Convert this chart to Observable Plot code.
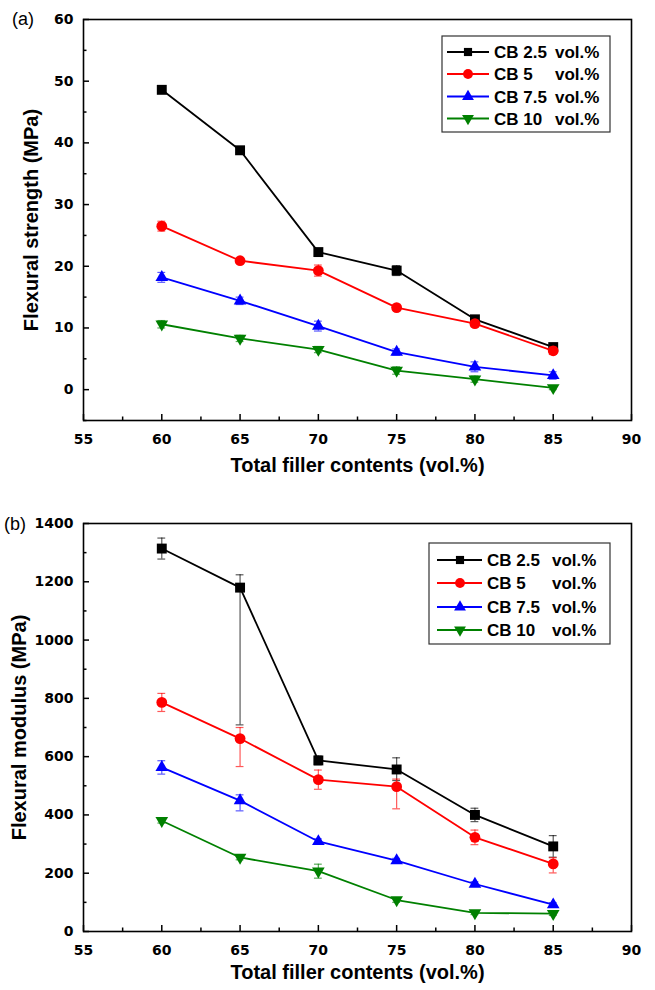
<!DOCTYPE html>
<html>
<head>
<meta charset="utf-8">
<script src="https://cdn.jsdelivr.net/npm/d3@7"></script>
<script src="https://cdn.jsdelivr.net/npm/@observablehq/plot@0.6"></script>
<style>
  html, body { margin: 0; padding: 0; background: #fff; }
  #wrap { width: 655px; }
  svg { display: block; }
  .tick-labels text { font-family: "DejaVu Sans", sans-serif; font-weight: bold; }
</style>
</head>
<body>
<div id="wrap"><div id="chartA"></div><div id="chartB"></div></div>
<script>
// ---------- data ----------
const fillerContents = [60, 65, 70, 75, 80, 85];
const seriesNames = ["CB 2.5", "CB 5", "CB 7.5", "CB 10"];
const seriesColors = ["#000000", "#ff0000", "#0000ff", "#008000"];
const seriesSymbols = ["square", "circle", "triangle", "triangle"];
const seriesRotate = [0, 0, 0, 180];

// (a) flexural strength (MPa) and +/- error
const strengthCB25 = [48.6, 38.8, 22.3, 19.3, 11.4, 6.9];
const strengthCB5  = [26.5, 20.9, 19.3, 13.3, 10.7, 6.3];
const strengthCB75 = [18.2, 14.4, 10.3, 6.1, 3.7, 2.3];
const strengthCB10 = [10.6, 8.3, 6.5, 3.1, 1.7, 0.3];
const strengthErrCB25 = [0.3, 0.4, 0.5, 0.8, 0.5, 0.4];
const strengthErrCB5  = [0.8, 0.4, 0.9, 0.4, 0.5, 0.6];
const strengthErrCB75 = [0.8, 0.6, 0.8, 0.5, 0.8, 0.6];
const strengthErrCB10 = [0.6, 0.5, 0.5, 0.6, 0.5, 0.3];

// (b) flexural modulus (MPa) with error-bar low / high ends
const modulusCB25 = [1314, 1180, 587, 556, 400, 292];
const modulusCB5  = [786, 662, 521, 497, 323, 232];
const modulusCB75 = [563, 449, 309, 243, 163, 92];
const modulusCB10 = [380, 254, 207, 108, 64, 61];
const modulusLoCB25 = [1278, 709, 572, 518, 377, 255];
const modulusHiCB25 = [1350, 1224, 602, 596, 423, 329];
const modulusLoCB5  = [755, 566, 488, 421, 298, 201];
const modulusHiCB5  = [817, 700, 554, 523, 348, 253];
const modulusLoCB75 = [540, 414, 300, 235, 155, 85];
const modulusHiCB75 = [586, 469, 318, 251, 171, 99];
const modulusLoCB10 = [372, 246, 183, 100, 58, 55];
const modulusHiCB10 = [388, 262, 231, 116, 70, 67];

// ticks
const xMajor = [55, 60, 65, 70, 75, 80, 85, 90];
const xMinor = [57.5, 62.5, 67.5, 72.5, 77.5, 82.5, 87.5];
const yMajorA = [0, 10, 20, 30, 40, 50, 60];
const yMinorA = [-5, 5, 15, 25, 35, 45, 55];
const yMajorB = [0, 200, 400, 600, 800, 1000, 1200, 1400];
const yMinorB = [100, 300, 500, 700, 900, 1100, 1300];

// ---------- build tables ----------
const strengthVals = [strengthCB25, strengthCB5, strengthCB75, strengthCB10];
const strengthErrs = [strengthErrCB25, strengthErrCB5, strengthErrCB75, strengthErrCB10];
const tableA = seriesNames.map((s, i) => fillerContents.map((x, j) => ({
  series: s, x, y: strengthVals[i][j],
  lo: strengthVals[i][j] - strengthErrs[i][j], hi: strengthVals[i][j] + strengthErrs[i][j]
})));
const modulusVals = [modulusCB25, modulusCB5, modulusCB75, modulusCB10];
const modulusLo = [modulusLoCB25, modulusLoCB5, modulusLoCB75, modulusLoCB10];
const modulusHi = [modulusHiCB25, modulusHiCB5, modulusHiCB75, modulusHiCB10];
const tableB = seriesNames.map((s, i) => fillerContents.map((x, j) => ({
  series: s, x, y: modulusVals[i][j], lo: modulusLo[i][j], hi: modulusHi[i][j]
})));

const capHalf = 0.25; // half width of error caps in x units

function seriesMarks(table) {
  const marks = [];
  table.forEach((rows, i) => {
    const c = seriesColors[i];
    const eo = {stroke: c, strokeOpacity: 0.65, strokeWidth: 1.2};
    marks.push(Plot.ruleX(rows, {x: "x", y1: "lo", y2: "hi", ...eo}));
    marks.push(Plot.ruleY(rows, {y: "lo", x1: d => d.x - capHalf, x2: d => d.x + capHalf, ...eo}));
    marks.push(Plot.ruleY(rows, {y: "hi", x1: d => d.x - capHalf, x2: d => d.x + capHalf, ...eo}));
    marks.push(Plot.line(rows, {x: "x", y: "y", stroke: c, strokeWidth: 1.8}));
    const r = seriesSymbols[i] === "square" ? 5.6 : seriesSymbols[i] === "circle" ? 5.4 : 4.7;
    marks.push(Plot.dot(rows, {x: "x", y: "y", symbol: seriesSymbols[i], rotate: seriesRotate[i], r, fill: c, stroke: "none"}));
  });
  return marks;
}

function axesMarks(yMajor, yMinor, xLabel, yLabel, xLabOff, yLabOff) {
  return [
    Plot.axisX(xMajor, {tickSize: -6, tickPadding: 20, label: null, fontSize: 14, className: "tick-labels", strokeWidth: 1.5, tickFormat: d => String(d)}),
    Plot.axisX(xMinor, {tickSize: -3.5, tickFormat: () => "", label: null, strokeWidth: 1.5}),
    Plot.axisY(yMajor, {tickSize: -6, tickPadding: 16, label: null, fontSize: 14, className: "tick-labels", strokeWidth: 1.5, tickFormat: d => String(d)}),
    Plot.axisY(yMinor, {tickSize: -3.5, tickFormat: () => "", label: null, strokeWidth: 1.5}),
    Plot.frame({stroke: "#000", strokeWidth: 1.6}),
    Plot.text([xLabel], {text: d => d, frameAnchor: "bottom", textAnchor: "middle", dy: xLabOff, fontSize: 20, fontWeight: "bold", fill: "#000"}),
    Plot.text([yLabel], {text: d => d, frameAnchor: "left", textAnchor: "middle", dx: -yLabOff, rotate: -90, fontSize: 20, fontWeight: "bold", fill: "#000"})
  ];
}

const commonStyle = {fontFamily: "'Liberation Sans', Arial, sans-serif", background: "#fff", color: "#000", overflow: "visible"};

const chartA = Plot.plot({
  width: 655, height: 490,
  marginLeft: 83, marginRight: 24, marginTop: 19, marginBottom: 70,
  style: commonStyle,
  x: {domain: [55, 90]},
  y: {domain: [-5, 60]},
  marks: [
    ...axesMarks(yMajorA, yMinorA, "Total filler contents (vol.%)", "Flexural strength (MPa)", 51, 52),
    ...seriesMarks(tableA)
  ]
});
document.getElementById("chartA").append(chartA);

const chartB = Plot.plot({
  width: 655, height: 500,
  marginLeft: 83, marginRight: 24, marginTop: 33, marginBottom: 59,
  style: commonStyle,
  x: {domain: [55, 90]},
  y: {domain: [0, 1400]},
  marks: [
    ...axesMarks(yMajorB, yMinorB, "Total filler contents (vol.%)", "Flexural modulus (MPa)", 47, 64),
    ...seriesMarks(tableB)
  ]
});
document.getElementById("chartB").append(chartB);

// ---------- panel tags and legends ----------
const FONT = "'Liberation Sans', Arial, sans-serif";
function addTag(svg, txt, x, y) {
  d3.select(svg).append("text").attr("x", x).attr("y", y).attr("text-anchor", "start")
    .attr("font-family", FONT).attr("font-size", 18).attr("fill", "#000").text(txt);
}
function addLegend(svg, o) {
  const g = d3.select(svg).append("g").attr("class", "legend").attr("text-anchor", "start");
  g.append("rect").attr("x", o.x).attr("y", o.y).attr("width", o.w).attr("height", o.h)
    .attr("fill", "#fff").attr("stroke", "#333").attr("stroke-width", 1.2);
  seriesNames.forEach((s, i) => {
    const cy = o.rows[i], c = seriesColors[i];
    g.append("line").attr("x1", o.lx1).attr("x2", o.lx2).attr("y1", cy).attr("y2", cy)
      .attr("stroke", c).attr("stroke-width", 1.8);
    const sym = {square: d3.symbolSquare, circle: d3.symbolCircle, triangle: d3.symbolTriangle}[seriesSymbols[i]];
    const r = seriesSymbols[i] === "square" ? 4.6 : seriesSymbols[i] === "circle" ? 4.9 : 4.4;
    g.append("path").attr("d", d3.symbol(sym, Math.PI * r * r)())
      .attr("transform", `translate(${o.mx},${cy}) rotate(${seriesRotate[i]})`).attr("fill", c);
    g.append("text").attr("x", o.tx).attr("y", cy).attr("dy", "0.36em")
      .attr("font-family", FONT).attr("font-weight", "bold")
      .attr("font-size", 17).attr("fill", "#000").text(s);
    g.append("text").attr("x", o.vx).attr("y", cy).attr("dy", "0.36em")
      .attr("font-family", FONT).attr("font-weight", "bold")
      .attr("font-size", 17).attr("fill", "#000").text("vol.%");
  });
}
addTag(chartA, "(a)", 12, 25);
addTag(chartB, "(b)", 4, 40);
addLegend(chartA, {x: 442, y: 36, w: 168, h: 96, rows: [52, 74, 96.5, 118.5], lx1: 447, lx2: 489, mx: 468, tx: 494, vx: 555});
addLegend(chartB, {x: 429, y: 53, w: 181, h: 101, rows: [70, 93, 117, 140], lx1: 437, lx2: 482, mx: 460, tx: 487, vx: 552});
</script>
</body>
</html>
